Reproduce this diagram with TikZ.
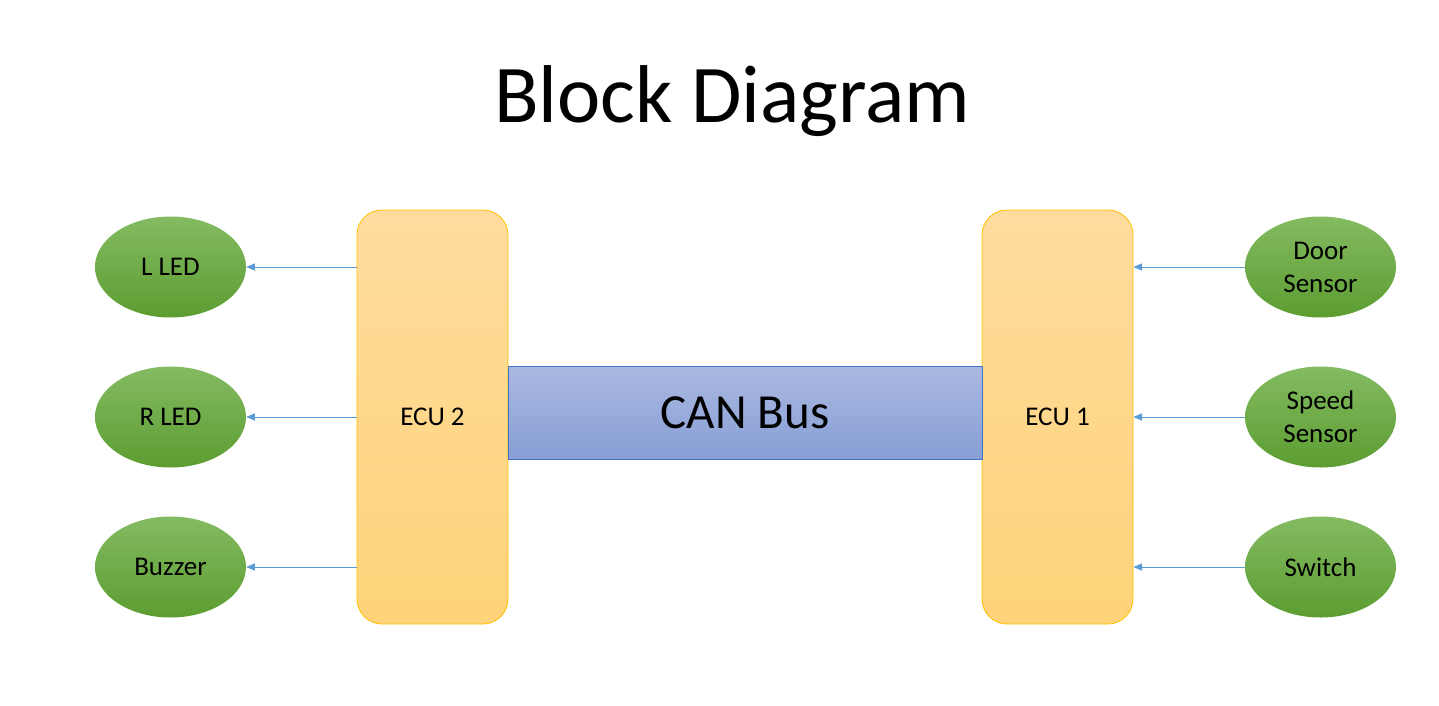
\documentclass[tikz,border=0pt]{standalone}
\usepackage{fontspec}
\setmainfont{Carlito}
\usepackage{tikz}
\usetikzlibrary{arrows,shapes,positioning}
\definecolor{ecuTop}{HTML}{FEDC9E}
\definecolor{ecuBot}{HTML}{FED379}
\definecolor{ecuLine}{HTML}{FFC000}
\definecolor{busTop}{HTML}{AAB8E1}
\definecolor{busBot}{HTML}{879FD5}
\definecolor{busLine}{HTML}{4472C4}
\definecolor{devTop}{HTML}{84BB62}
\definecolor{devBot}{HTML}{5C9D31}
\definecolor{linkCol}{HTML}{5B9BD5}
\tikzset{
	box/.style = {align=center, inner sep=0pt, text centered},
	ecu/.style = {box, rectangle, draw=ecuLine, line width=0.8pt, rounded corners=25pt, top color=ecuTop, bottom color=ecuBot, minimum width=151pt, minimum height=414pt, font=\fontsize{27}{32}\selectfont},
	bus/.style = {box, rectangle, draw=busLine, line width=0.8pt, top color=busTop, bottom color=busBot, minimum width=474pt, minimum height=93pt, font=\fontsize{49}{58}\selectfont},
	dev/.style = {box, ellipse, top color=devTop, bottom color=devBot, minimum width=151pt, minimum height=101pt, font=\fontsize{27}{33}\selectfont},
	link/.style = {-triangle 45, draw=linkCol, line width=1pt}
}

\begin{document}
\begin{tikzpicture}[x=1pt, y=-1pt]
	\useasboundingbox (0,0) rectangle (1439,706);
	\node [font=\fontsize{82}{90}\selectfont] (title) at (732,101) {Block Diagram};
	% the two control units and the bus
	\node [ecu] (ecu2) at (432.5,417) {ECU 2};
	\node [ecu] (ecu1) at (1057.5,417) {ECU 1};
	\node [bus] (can) at (745,412.5) {CAN Bus};
	% outputs
	\node [dev] (lled) at (170.5,267) {L LED};
	\node [dev] (rled) at (170.5,417) {R LED};
	\node [dev] (buzz) at (170.5,567) {Buzzer};
	% inputs
	\node [dev] (door) at (1320.5,267) {Door\\Sensor};
	\node [dev] (speed) at (1320.5,417) {Speed\\Sensor};
	\node [dev] (switch) at (1320.5,567) {Switch};
	\draw [link] (ecu2.west |- lled.east) -- (lled.east);
	\draw [link] (ecu2.west |- rled.east) -- (rled.east);
	\draw [link] (ecu2.west |- buzz.east) -- (buzz.east);
	\draw [link] (door.west) -- (ecu1.east |- door.west);
	\draw [link] (speed.west) -- (ecu1.east |- speed.west);
	\draw [link] (switch.west) -- (ecu1.east |- switch.west);
\end{tikzpicture}
\end{document}
